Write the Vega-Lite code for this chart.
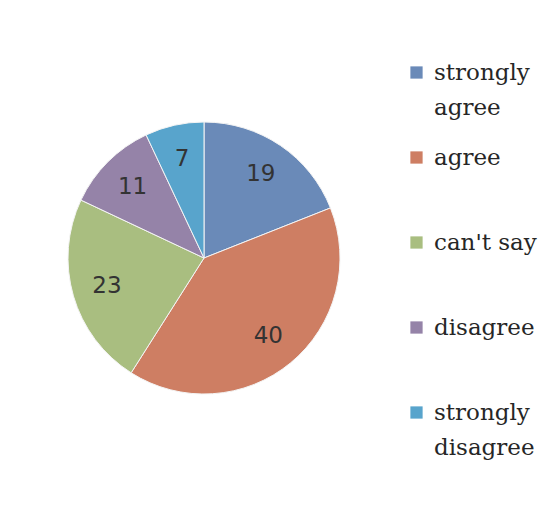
{
  "$schema": "https://vega.github.io/schema/vega-lite/v6.json",
  "width": 408,
  "height": 516,
  "autosize": {"type": "none"},
  "padding": {"left": 0, "top": 0, "right": 152, "bottom": 0},
  "background": "white",
  "data": {
    "values": [
      {"cat": "strongly agree", "value": 19, "rank": 1},
      {"cat": "agree", "value": 40, "rank": 2},
      {"cat": "can't say", "value": 23, "rank": 3},
      {"cat": "disagree", "value": 11, "rank": 4},
      {"cat": "strongly disagree", "value": 7, "rank": 5}
    ]
  },
  "encoding": {
    "theta": {"field": "value", "type": "quantitative", "stack": true},
    "order": {"field": "rank", "type": "quantitative"}
  },
  "layer": [
    {
      "mark": {"type": "arc", "outerRadius": 136, "stroke": "#f4f4f4", "strokeWidth": 1},
      "encoding": {
        "color": {
          "field": "cat",
          "type": "nominal",
          "scale": {
            "domain": ["strongly agree", "agree", "can't say", "disagree", "strongly disagree"],
            "range": ["#6a8ab8", "#ce7e63", "#a9be80", "#9583a8", "#58a4cc"]
          },
          "legend": {
            "title": null,
            "orient": "none",
            "legendX": 405,
            "legendY": 61,
            "direction": "vertical",
            "symbolType": "square",
            "symbolSize": 150,
            "symbolStrokeWidth": 0,
            "symbolOpacity": 1,
            "labelFont": "DejaVu Serif",
            "labelFontSize": 23,
            "labelColor": "#262626",
            "labelOffset": 6,
            "labelBaseline": "middle",
            "labelLimit": 200,
            "rowPadding": 26,
            "gridAlign": "all",
            "labelExpr": "datum.label == 'strongly agree' ? ['strongly', 'agree'] : datum.label == 'strongly disagree' ? ['strongly', 'disagree'] : datum.label"
          }
        }
      }
    },
    {
      "mark": {"type": "text", "radius": 101, "font": "DejaVu Sans", "fontSize": 23, "fill": "#333333"},
      "encoding": {
        "text": {"field": "value", "type": "quantitative"}
      }
    }
  ],
  "config": {
    "view": {"stroke": null},
    "style": {"guide-label": {"lineHeight": 35}}
  }
}
